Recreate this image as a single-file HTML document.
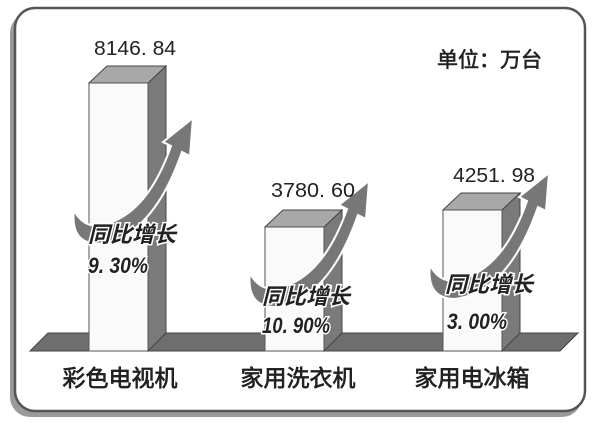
<!DOCTYPE html>
<html><head><meta charset="utf-8"><style>
html,body{margin:0;padding:0;background:#fff;}
svg text{font-family:"Liberation Sans","Noto Sans CJK SC",sans-serif;}
</style></head><body>
<svg width="600" height="428" viewBox="0 0 600 428" xmlns="http://www.w3.org/2000/svg">
<rect x="0" y="0" width="600" height="428" fill="#fff"/>
<rect x="10" y="13" width="572" height="404" rx="20" fill="#9a9a9a"/>
<rect x="15" y="8" width="570" height="403" rx="20" fill="#fff" stroke="#555" stroke-width="2.5"/>
<polygon points="30,351 48,333 578,333 560,351" fill="#6e6e6e" stroke="#444" stroke-width="1"/>
<polygon points="148,83 166,66 166,333 148,351" fill="#7a7a7a" stroke="#444"/>
<polygon points="89,83 107,66 166,66 148,83" fill="#a8a8a8" stroke="#444"/>
<rect x="89" y="83" width="59" height="268" fill="#fafafa" stroke="#555"/>
<polygon points="324,227 342,210 342,333 324,351" fill="#7a7a7a" stroke="#444"/>
<polygon points="265,227 283,210 342,210 324,227" fill="#a8a8a8" stroke="#444"/>
<rect x="265" y="227" width="59" height="124" fill="#fafafa" stroke="#555"/>
<polygon points="502,210 520,193 520,333 502,351" fill="#7a7a7a" stroke="#444"/>
<polygon points="443,210 461,193 520,193 502,210" fill="#a8a8a8" stroke="#444"/>
<rect x="443" y="210" width="59" height="141" fill="#fafafa" stroke="#555"/>
<g fill="#777" stroke="#fff" stroke-width="2">
<path d="M74,210 Q70,243 98,244 Q152,238 182,152 L190,156 L193,118 L163,142 L171,146 Q146,218 98,226 Q82,226 74,210 Z"/>
<path transform="translate(176,63)" d="M74,210 Q70,243 98,244 Q152,238 182,152 L190,156 L193,118 L163,142 L171,146 Q146,218 98,226 Q82,226 74,210 Z"/>
<path transform="translate(356,55)" d="M74,210 Q70,243 98,244 Q152,238 182,152 L190,156 L193,118 L163,142 L171,146 Q146,218 98,226 Q82,226 74,210 Z"/>
</g>
<g font-size="20" fill="#222" text-anchor="middle">
<text x="135" y="55" textLength="82" lengthAdjust="spacingAndGlyphs">8146. 84</text>
<text x="313" y="197" textLength="84" lengthAdjust="spacingAndGlyphs">3780. 60</text>
<text x="494" y="182" textLength="82" lengthAdjust="spacingAndGlyphs">4251. 98</text>
</g>
<text x="437" y="67" font-size="21" fill="#222" stroke="#222" stroke-width="0.6">单位：万台</text>
<g font-size="23" fill="#222" stroke="#222" stroke-width="0.7" text-anchor="middle">
<text x="120" y="386">彩色电视机</text>
<text x="298" y="386">家用洗衣机</text>
<text x="472" y="386">家用电冰箱</text>
</g>
<g font-size="22" font-weight="bold" fill="#222" font-style="italic" stroke="#fff" stroke-width="3" paint-order="stroke">
<text x="88" y="242">同比增长</text>
<text x="88" y="273" textLength="60" lengthAdjust="spacingAndGlyphs">9. 30%</text>
<text x="262" y="304">同比增长</text>
<text x="262" y="333" textLength="68" lengthAdjust="spacingAndGlyphs">10. 90%</text>
<text x="445" y="292">同比增长</text>
<text x="447" y="329" textLength="60" lengthAdjust="spacingAndGlyphs">3. 00%</text>
</g>
</svg>
</body></html>
